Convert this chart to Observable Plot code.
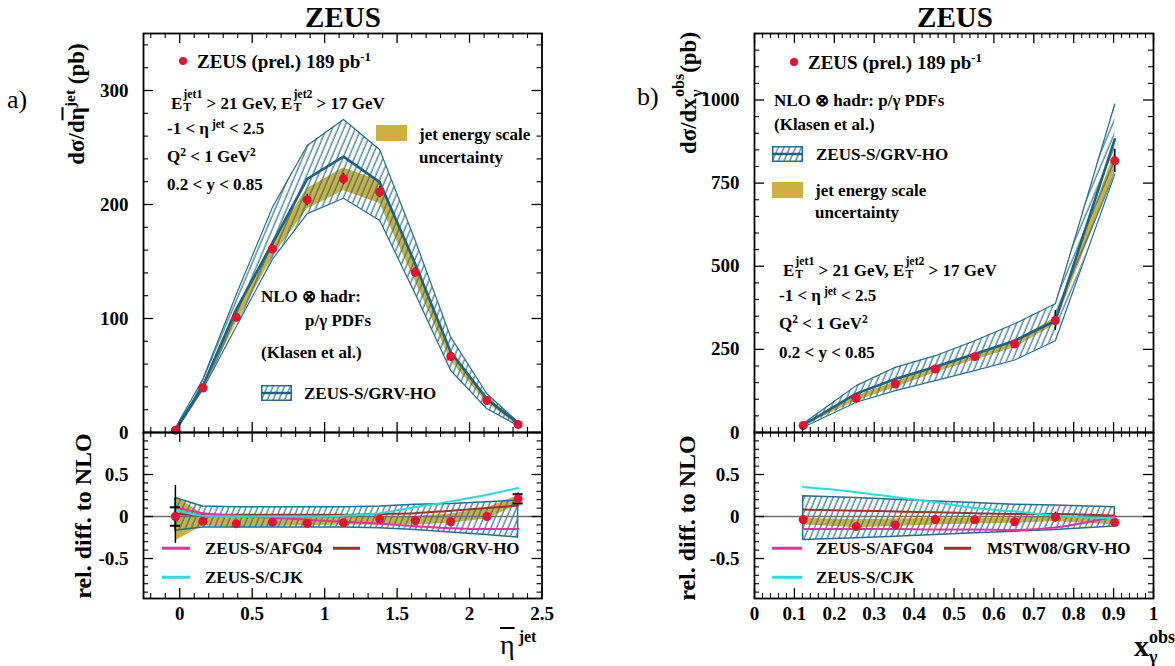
<!DOCTYPE html>
<html><head><meta charset="utf-8">
<script src="https://cdn.jsdelivr.net/npm/d3@7"></script>
<script src="https://cdn.jsdelivr.net/npm/@observablehq/plot@0.6"></script>
<style>
body{margin:0;background:#fff}
#wrap{position:relative;width:1175px;height:666px;overflow:hidden;font-family:"Liberation Serif","Times New Roman",serif;font-weight:bold;color:#000;background:#fff}
.abs{position:absolute;white-space:nowrap;line-height:1}
.plot{position:absolute}
.s{font-size:0.68em;position:relative;top:-0.55em;line-height:0}
.ss{display:inline-flex;flex-direction:column;font-size:0.7em;line-height:1.1;vertical-align:0.95em;margin-left:1px;margin-right:4px}
.ol{text-decoration:overline}
</style>
</head><body>
<svg width="0" height="0" style="position:absolute">
  <defs>
    <pattern id="hatch" patternUnits="userSpaceOnUse" width="5.3" height="10" patternTransform="rotate(23)">
      <line x1="1" y1="0" x2="1" y2="10" stroke="#1f6a8e" stroke-width="1.1"></line>
    </pattern>
  </defs>
</svg>
<div id="wrap"></div>
<script>
// ---------- data: panel a) (eta) ----------
const etaX       = [-0.03, 0.16, 0.39, 0.64, 0.88, 1.13, 1.38, 1.625, 1.87, 2.12, 2.335];
const etaData    = [2, 39, 101, 161, 204, 222.5, 211, 140.6, 66.7, 28, 7];
const etaErr     = [1, 2, 3, 4, 5, 5, 5, 4, 3, 1.5, 0.5];
const etaNLO     = [2, 41, 108, 166, 222.5, 242, 219.6, 148, 70.5, 29.5, 8];
const etaNLOHi   = [4, 47, 121, 197.6, 251.8, 274.6, 248, 168.4, 83.6, 34, 9];
const etaNLOLo   = [1, 38, 93, 152, 192, 205.5, 186, 121.6, 54.4, 20.8, 6];
const etaGoldHi  = [3, 42, 106, 168, 214, 232, 221, 148, 71, 30, 8.5];
const etaGoldLo  = [1, 37, 96, 154, 196, 212, 201, 133, 63, 26, 6];
// relative differences (panel a lower)
const etaRel       = [0.0, -0.056, -0.087, -0.067, -0.08, -0.075, -0.032, -0.048, -0.063, 0.0, 0.21];
const etaRelErrUp  = [0.37, 0.03, 0.02, 0.02, 0.02, 0.02, 0.02, 0.02, 0.03, 0.03, 0.07];
const etaRelErrDn  = [0.32, 0.03, 0.02, 0.02, 0.02, 0.02, 0.02, 0.02, 0.03, 0.03, 0.07];
const etaRelStat   = [0.11, 0, 0, 0, 0, 0, 0, 0, 0, 0, 0.055];
const etaHatchHi   = [0.22, 0.12, 0.11, 0.11, 0.11, 0.11, 0.12, 0.14, 0.15, 0.17, 0.19];
const etaHatchLo   = [-0.17, -0.13, -0.13, -0.13, -0.13, -0.13, -0.14, -0.16, -0.19, -0.22, -0.25];
const etaRGoldHi   = [0.24, 0.03, 0.0, 0.0, -0.01, -0.01, 0.0, 0.0, 0.03, 0.1, 0.25];
const etaRGoldLo   = [-0.29, -0.11, -0.13, -0.12, -0.11, -0.1, -0.1, -0.1, -0.08, -0.03, 0.14];
const etaAFG04     = [0.11, 0.04, 0.01, -0.016, -0.04, -0.063, -0.087, -0.115, -0.14, -0.15, -0.15];
const etaMSTW08    = [0.03, 0.02, 0.02, 0.02, 0.02, 0.02, 0.03, 0.04, 0.07, 0.10, 0.13];
const etaCJK       = [0.08, 0.01, 0.0, 0.0, 0.0, 0.01, 0.04, 0.11, 0.18, 0.26, 0.34];

// ---------- data: panel b) (x_gamma) ----------
const xgX       = [0.122, 0.255, 0.353, 0.453, 0.552, 0.652, 0.754, 0.903];
const xgData    = [21, 103, 146, 191, 228, 266, 337, 817];
const xgErr     = [3, 6, 7, 8, 9, 10, 30, 35];
const xgNLO     = [22, 117, 161, 198, 236, 276, 336, 882];
const xgNLOHi   = [27, 141, 196, 231, 276, 327, 387, 988];
const xgNLOLo   = [16, 91, 126, 156, 186, 218, 276, 777];
const xgGoldHi  = [21.5, 110, 152, 198, 236, 275, 345, 845];
const xgGoldLo  = [19.5, 95, 135, 180, 218, 255, 325, 780];
const xgRel       = [-0.036, -0.12, -0.10, -0.036, -0.04, -0.063, -0.008, -0.071];
const xgRelErr    = [0.02, 0.02, 0.02, 0.02, 0.02, 0.02, 0.06, 0.03];
const xgHatchHi   = [0.24, 0.22, 0.20, 0.18, 0.16, 0.14, 0.13, 0.11];
const xgHatchLo   = [-0.28, -0.26, -0.24, -0.22, -0.20, -0.18, -0.16, -0.12];
const xgRGoldHi   = [-0.02, -0.04, -0.03, -0.02, -0.02, -0.02, 0.0, 0.0];
const xgRGoldLo   = [-0.10, -0.13, -0.12, -0.10, -0.09, -0.08, -0.06, -0.10];
const xgAFG04     = [-0.15, -0.15, -0.15, -0.155, -0.155, -0.16, -0.13, 0.0];
const xgMSTW08    = [0.083, 0.07, 0.06, 0.05, 0.04, 0.03, 0.03, 0.01];
const xgCJK       = [0.35, 0.29, 0.23, 0.17, 0.10, 0.06, 0.01, -0.02];

// ---------- styles ----------
const RED = "#e8102e", GOLD = "#cdb03e", TEAL = "#226f95", TEALD = "#1b6284";
const MAG = "#ff2aa8", CYAN = "#22dede", BROWN = "#a2302c";
const FONT = '"Liberation Serif","Times New Roman",serif';

const wrap = document.getElementById("wrap");
const baseStyle = {background: "transparent", fontFamily: FONT, fontWeight: "bold", fontSize: "19px", color: "black", overflow: "visible"};

function frameMarks(xMaj, xMin, yMaj, yMin, W, H) {
  const M = 10, m = 5;
  return [
    Plot.tickX(xMaj, {x: d => d, insetTop: H - M, stroke: "black", strokeWidth: 1.3}),
    Plot.tickX(xMaj, {x: d => d, insetBottom: H - M, stroke: "black", strokeWidth: 1.3}),
    Plot.tickX(xMin, {x: d => d, insetTop: H - m, stroke: "black", strokeWidth: 1.1}),
    Plot.tickX(xMin, {x: d => d, insetBottom: H - m, stroke: "black", strokeWidth: 1.1}),
    Plot.tickY(yMaj, {y: d => d, insetRight: W - M, stroke: "black", strokeWidth: 1.3}),
    Plot.tickY(yMaj, {y: d => d, insetLeft: W - M, stroke: "black", strokeWidth: 1.3}),
    Plot.tickY(yMin, {y: d => d, insetRight: W - m, stroke: "black", strokeWidth: 1.1}),
    Plot.tickY(yMin, {y: d => d, insetLeft: W - m, stroke: "black", strokeWidth: 1.1}),
    Plot.frame({stroke: "black", strokeWidth: 1.8})
  ];
}
const rnd = v => Math.round(v * 1000) / 1000;
const minorOf = (a, b, step, majStep) => d3.range(Math.round(a / step), Math.round(b / step) + 1)
  .map(k => rnd(k * step)).filter(v => Math.abs(v / majStep - Math.round(v / majStep)) > 1e-6);

function place(el, left, top) { el.classList.add("plot"); el.style.left = left + "px"; el.style.top = top + "px"; wrap.appendChild(el); }

// ---------- rows ----------
const etaRows = etaX.map((x, i) => ({x, v: etaData[i], e: etaErr[i], nlo: etaNLO[i], hi: etaNLOHi[i], lo: etaNLOLo[i], gHi: etaGoldHi[i], gLo: etaGoldLo[i]}));
const etaRRows = etaX.map((x, i) => ({x, v: etaRel[i], up: etaRelErrUp[i], dn: etaRelErrDn[i], st: etaRelStat[i], hi: etaHatchHi[i], lo: etaHatchLo[i], gHi: etaRGoldHi[i], gLo: etaRGoldLo[i], afg: etaAFG04[i], mstw: etaMSTW08[i], cjk: etaCJK[i]}));
const xgRows = xgX.map((x, i) => ({x, v: xgData[i], e: xgErr[i], nlo: xgNLO[i], hi: xgNLOHi[i], lo: xgNLOLo[i], gHi: xgGoldHi[i], gLo: xgGoldLo[i]}));
const xgRRows = xgX.map((x, i) => ({x, v: xgRel[i], up: xgRelErr[i], dn: xgRelErr[i], st: 0, hi: xgHatchHi[i], lo: xgHatchLo[i], gHi: xgRGoldHi[i], gLo: xgRGoldLo[i], afg: xgAFG04[i], mstw: xgMSTW08[i], cjk: xgCJK[i]}));

function topMarks(rows) {
  return [
    Plot.areaY(rows, {x: "x", y1: "gLo", y2: "gHi", fill: GOLD}),
    Plot.areaY(rows, {x: "x", y1: "lo", y2: "hi", fill: "url(#hatch)"}),
    Plot.line(rows, {x: "x", y: "hi", stroke: TEAL, strokeWidth: 1.2}),
    Plot.line(rows, {x: "x", y: "lo", stroke: TEAL, strokeWidth: 1.2}),
    Plot.line(rows, {x: "x", y: "nlo", stroke: TEALD, strokeWidth: 2.6}),
    Plot.ruleX(rows, {x: "x", y1: d => d.v - d.e, y2: d => d.v + d.e, stroke: "black", strokeWidth: 1.5}),
    Plot.dot(rows, {x: "x", y: "v", r: 4.5, fill: RED, stroke: "none"})
  ];
}
function relMarks(rows, capW) {
  return [
    Plot.areaY(rows, {x: "x", y1: "gLo", y2: "gHi", fill: GOLD}),
    Plot.areaY(rows, {x: "x", y1: "lo", y2: "hi", fill: "url(#hatch)", stroke: TEAL, strokeWidth: 1.5}),
    Plot.ruleY([0], {stroke: "#6e6e6e", strokeWidth: 1.5}),
    Plot.line(rows, {x: "x", y: "mstw", stroke: BROWN, strokeWidth: 2, curve: "monotone-x"}),
    Plot.line(rows, {x: "x", y: "afg", stroke: MAG, strokeWidth: 2, curve: "monotone-x"}),
    Plot.line(rows, {x: "x", y: "cjk", stroke: CYAN, strokeWidth: 2, curve: "monotone-x"}),
    Plot.ruleX(rows, {x: "x", y1: d => d.v - d.dn, y2: d => d.v + d.up, stroke: "black", strokeWidth: 1.5}),
    Plot.ruleY(rows.filter(d => d.st > 0), {y: d => d.v + d.st, x1: d => d.x - capW, x2: d => d.x + capW, stroke: "black", strokeWidth: 2}),
    Plot.ruleY(rows.filter(d => d.st > 0), {y: d => d.v - d.st, x1: d => d.x - capW, x2: d => d.x + capW, stroke: "black", strokeWidth: 2}),
    Plot.dot(rows, {x: "x", y: "v", r: 4.5, fill: RED, stroke: "none"})
  ];
}

// ---------- panel a) ----------
const aW = 398.5, aTopH = 399, relH = 166;
const aXMaj = [0, 0.5, 1, 1.5, 2, 2.5], aXMin = minorOf(-0.2, 2.4, 0.1, 0.5);
const relYMaj = [-0.5, 0, 0.5], relYMin = minorOf(-0.9, 0.9, 0.1, 0.5);

place(Plot.plot({
  width: 560, height: 434, marginTop: 33, marginBottom: 2, marginLeft: 143, marginRight: 18.5,
  style: baseStyle,
  x: {domain: [-0.25, 2.5], axis: null},
  y: {domain: [0, 350], ticks: [0, 100, 200, 300], tickSize: 0, tickPadding: 15, label: null, tickFormat: d => String(d)},
  marks: [...topMarks(etaRows), ...frameMarks(aXMaj, aXMin, [0, 100, 200, 300], minorOf(20, 340, 20, 100), aW, aTopH)]
}), 0, 0);

place(Plot.plot({
  width: 560, height: 246, marginTop: 12, marginBottom: 68, marginLeft: 143, marginRight: 18.5,
  style: baseStyle,
  x: {domain: [-0.25, 2.5], ticks: aXMaj, tickSize: 0, tickPadding: 8, label: null, tickFormat: d => String(d)},
  y: {domain: [-0.976, 1], ticks: relYMaj, tickSize: 0, tickPadding: 15, label: null, tickFormat: d => String(d)},
  marks: [...relMarks(etaRRows, 0.035), ...frameMarks(aXMaj, aXMin, relYMaj, relYMin, aW, relH)]
}), 0, 420);

// ---------- panel b) ----------
const bW = 399;
const bXMaj = d3.range(0, 11).map(k => k / 10), bXMin = minorOf(0.02, 0.98, 0.02, 0.1);
place(Plot.plot({
  width: 575, height: 434, marginTop: 33, marginBottom: 2, marginLeft: 154, marginRight: 22,
  style: baseStyle,
  x: {domain: [0, 1], axis: null},
  y: {domain: [0, 1200], ticks: [0, 250, 500, 750, 1000], tickSize: 0, tickPadding: 15, label: null, tickFormat: d => String(d)},
  marks: [...topMarks(xgRows), ...frameMarks(bXMaj, bXMin, [0, 250, 500, 750, 1000], minorOf(50, 1150, 50, 250), bW, aTopH)]
}), 600, 0);

place(Plot.plot({
  width: 575, height: 246, marginTop: 12, marginBottom: 68, marginLeft: 154, marginRight: 22,
  style: baseStyle,
  x: {domain: [0, 1], ticks: bXMaj, tickSize: 0, tickPadding: 8, label: null, tickFormat: d => (d === 0 || d === 1) ? String(d) : d.toFixed(1)},
  y: {domain: [-0.976, 1], ticks: relYMaj, tickSize: 0, tickPadding: 15, label: null, tickFormat: d => String(d)},
  marks: [...relMarks(xgRRows, 0.01), ...frameMarks(bXMaj, bXMin, relYMaj, relYMin, bW, relH)]
}), 600, 420);

// ---------- text overlays ----------
function lab(x, y, html, size, extra) {
  const d = document.createElement("div");
  d.className = "abs";
  d.style.left = x + "px"; d.style.top = y + "px"; d.style.fontSize = size + "px";
  d.style.transform = "translateY(-50%)";
  if (extra) Object.assign(d.style, extra);
  d.innerHTML = html; wrap.appendChild(d); return d;
}
function center(x, y, html, size, extra) {
  const d = lab(x, y, html, size, extra); d.style.transform = "translate(-50%,-50%)"; return d;
}
function rot(x, y, html, size) {
  const d = lab(x, y, html, size); d.style.transform = "translate(-50%,-50%) rotate(-90deg)"; return d;
}
function dot(x, y) { lab(x - 4, y, "", 0, {width: "8px", height: "8px", borderRadius: "50%", background: RED}); }
function goldBox(x, y, w, h) { lab(x, y, "", 0, {width: w + "px", height: h + "px", background: GOLD}); }
function hatchBox(x, y, w, h) {
  lab(x, y, `<svg width="${w}" height="${h}" style="display:block"><rect x="0.75" y="0.75" width="${w - 1.5}" height="${h - 1.5}" fill="url(#hatch)" stroke="${TEAL}" stroke-width="1.5"></rect><line x1="0" x2="${w}" y1="${h / 2}" y2="${h / 2}" stroke="${TEALD}" stroke-width="2.5"></line></svg>`, 0);
}
function lineSample(x1, x2, y, color) { lab(x1, y, "", 0, {width: (x2 - x1) + "px", height: "2.5px", background: color}); }
const ET = n => `E<span class="ss"><span>jet${n}</span><span>T</span></span>`;

// titles
center(343, 17, "ZEUS", 29);
center(955, 17, "ZEUS", 29);
lab(7, 100, "a)", 26, {fontWeight: "normal"});
lab(637, 97, "b)", 26, {fontWeight: "normal"});

// axis titles
rot(76, 104, `dσ/d<span class="ol">η</span><span class="s">jet</span> (pb)`, 23);
rot(83, 516, "rel. diff. to NLO", 24);
rot(688, 93, `dσ/dx<span class="ss" style="vertical-align:0.75em;margin-right:1px"><span>obs</span><span>γ</span></span>(pb)`, 23);
rot(687, 518, "rel. diff. to NLO", 24);
lab(500, 645, `<span class="ol" style="font-weight:normal;font-size:28px">η</span><span style="font-size:16px;position:relative;top:-12px;margin-left:4px">jet</span>`, 28);
lab(1134, 648, `x<span class="ss" style="font-size:0.6em;vertical-align:0.7em;margin-left:0"><span>obs</span><span>γ</span></span>`, 30);

// panel a legends
dot(183, 61);
lab(197, 61, `ZEUS (prel.) 189 pb<span class="s">-1</span>`, 19);
lab(171, 101, `${ET(1)}&gt; 21 GeV, ${ET(2)}&gt; 17 GeV`, 17);
lab(167, 128, `-1 &lt; η<span class="s">&nbsp;jet</span> &lt; 2.5`, 17);
lab(167, 156, `Q<span class="s">2</span> &lt; 1 GeV<span class="s">2</span>`, 17);
lab(167, 184, `0.2 &lt; y &lt; 0.85`, 17);
goldBox(376, 133, 31, 16);
lab(419, 134, "jet energy scale", 17);
lab(419, 157, "uncertainty", 17);
lab(261, 296, "NLO ⊗ hadr:", 17);
lab(305, 320, "p/γ PDFs", 17);
lab(261, 352, "(Klasen et al.)", 17);
hatchBox(261, 393, 31, 16);
lab(304, 393, "ZEUS-S/GRV-HO", 17);
lineSample(162, 190, 548, MAG); lab(205, 548, "ZEUS-S/AFG04", 17);
lineSample(333, 360, 548, BROWN); lab(376, 548, "MSTW08/GRV-HO", 17);
lineSample(162, 190, 577, CYAN); lab(205, 577, "ZEUS-S/CJK", 17);

// panel b legends
dot(794, 62);
lab(808, 62, `ZEUS (prel.) 189 pb<span class="s">-1</span>`, 19);
lab(774, 100, "NLO ⊗ hadr: p/γ PDFs", 17);
lab(774, 124, "(Klasen et al.)", 17);
hatchBox(772, 154, 31, 16);
lab(816, 154, "ZEUS-S/GRV-HO", 17);
goldBox(772, 190, 31, 16);
lab(815, 190, "jet energy scale", 17);
lab(815, 212, "uncertainty", 17);
lab(783, 268, `${ET(1)}&gt; 21 GeV, ${ET(2)}&gt; 17 GeV`, 17);
lab(779, 295, `-1 &lt; η<span class="s">&nbsp;jet</span> &lt; 2.5`, 17);
lab(779, 323, `Q<span class="s">2</span> &lt; 1 GeV<span class="s">2</span>`, 17);
lab(779, 352, `0.2 &lt; y &lt; 0.85`, 17);
lineSample(772, 802, 548, MAG); lab(816, 548, "ZEUS-S/AFG04", 17);
lineSample(944, 971, 548, BROWN); lab(987, 548, "MSTW08/GRV-HO", 17);
lineSample(772, 802, 577, CYAN); lab(816, 577, "ZEUS-S/CJK", 17);
</script>
</body></html>
